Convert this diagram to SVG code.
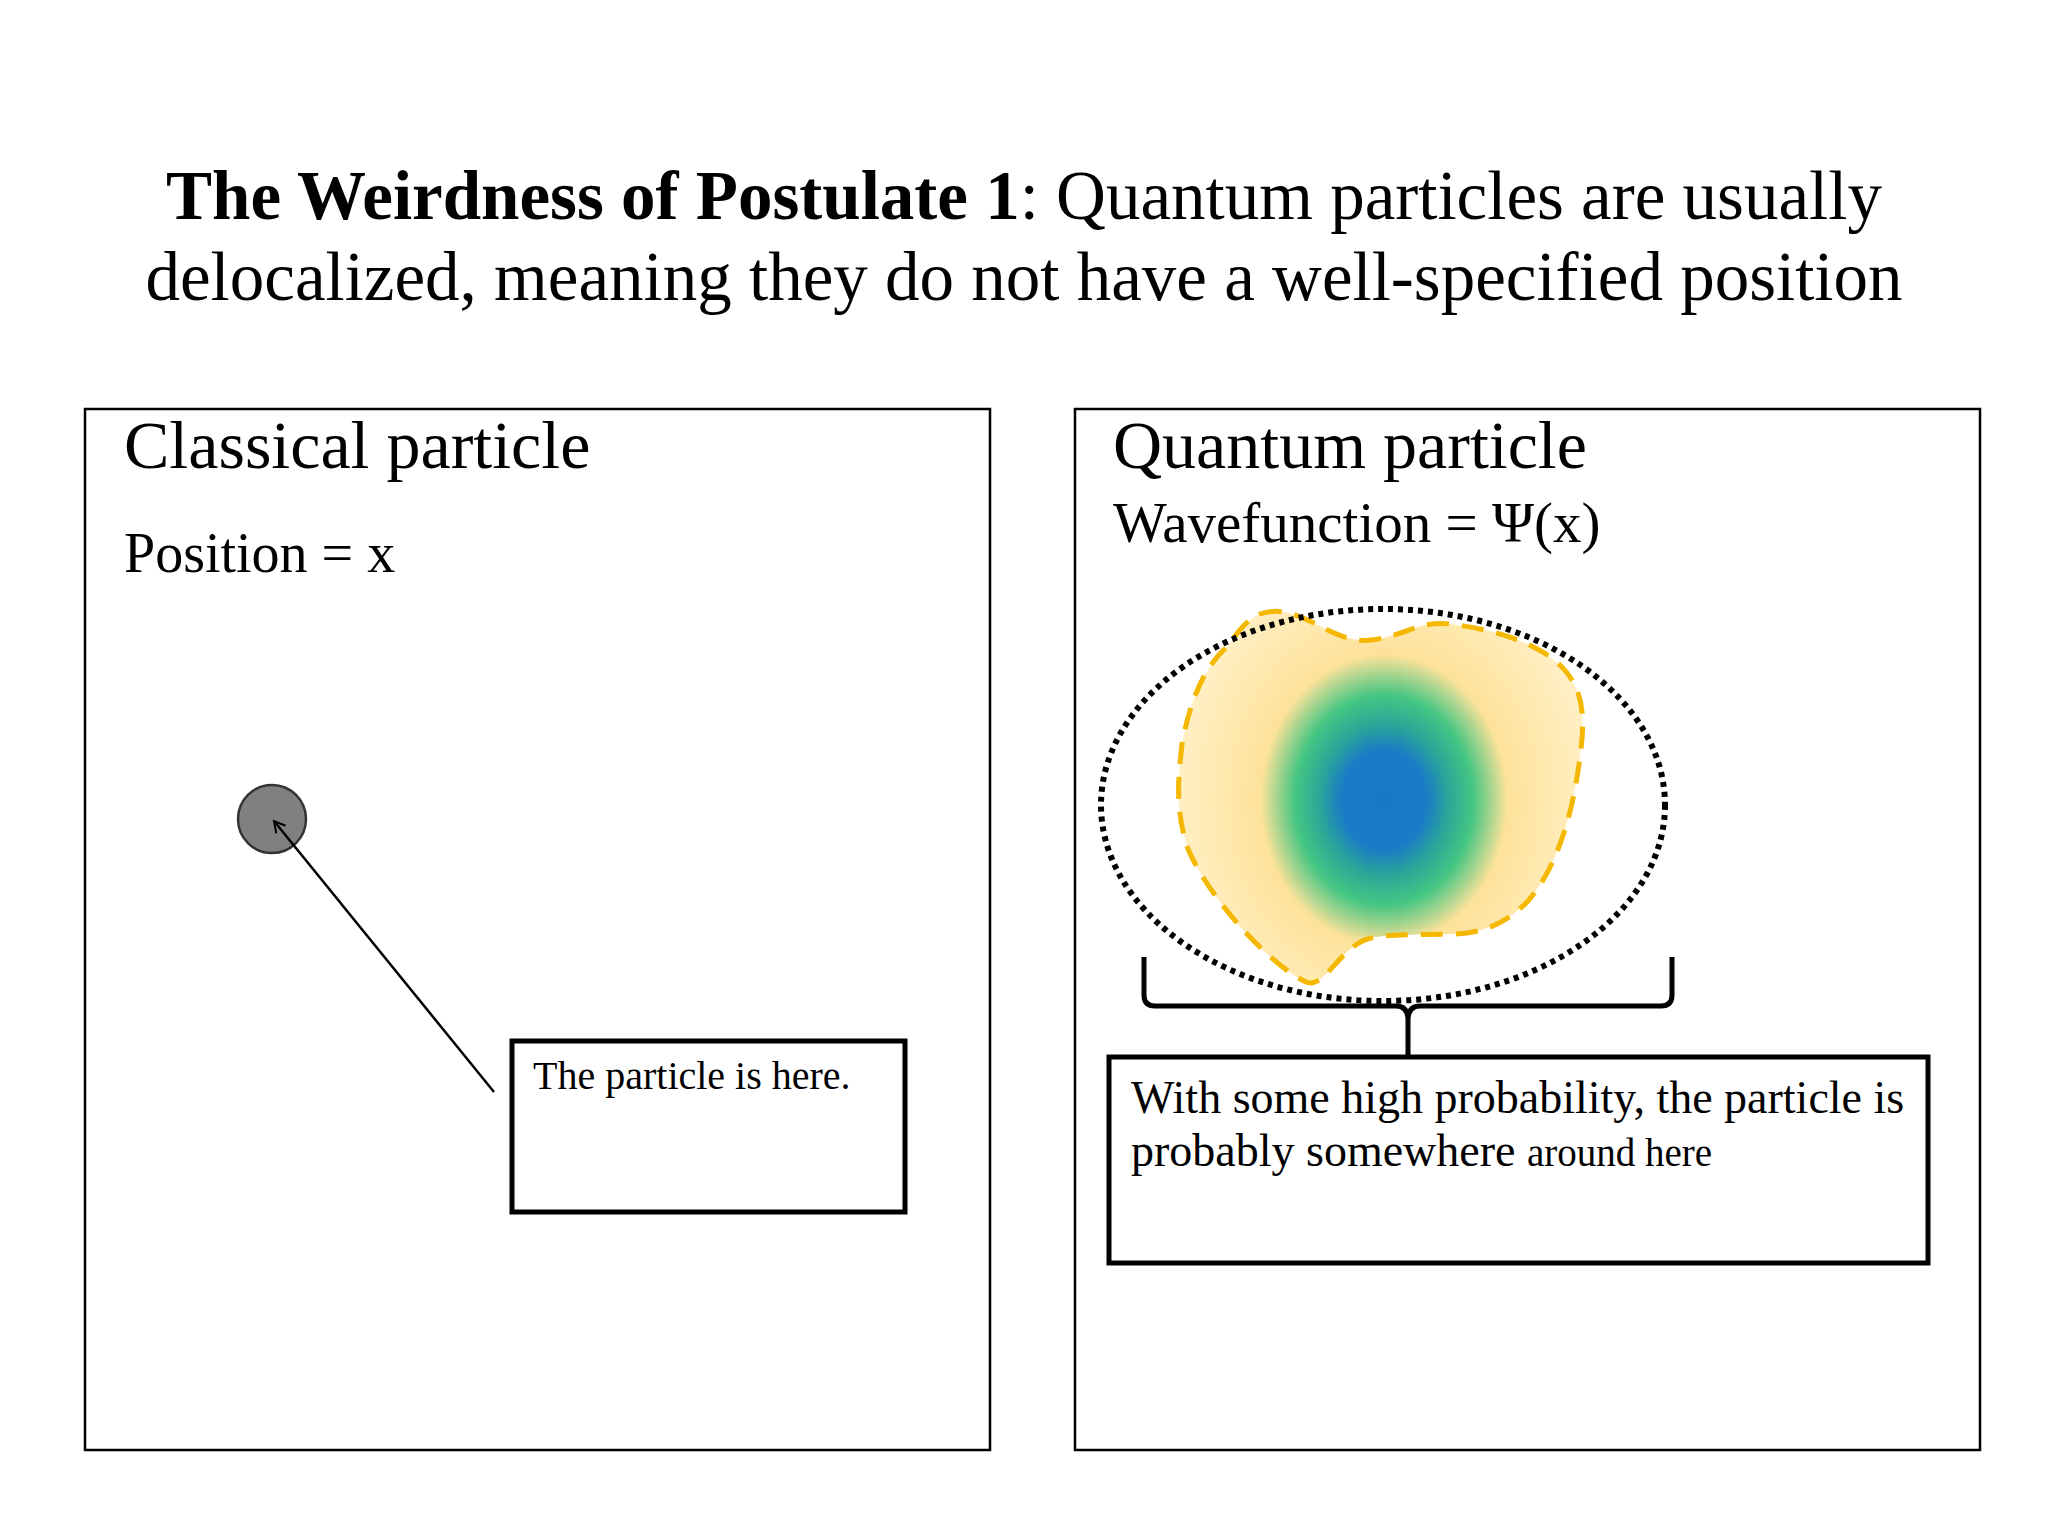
<svg xmlns="http://www.w3.org/2000/svg" width="2048" height="1536" viewBox="0 0 2048 1536">
<style>
text{font-family:"Liberation Serif","Times New Roman",serif;fill:#000}
.panel{fill:none;stroke:#000;stroke-width:2.5}
.box{fill:#fff;stroke:#000;stroke-width:5}
</style>
<defs>
<radialGradient id="g" cx="1384" cy="800" r="250" gradientUnits="userSpaceOnUse" gradientTransform="translate(1384 800) scale(0.85 1) translate(-1384 -800)">
<stop offset="0" stop-color="#1878c8"/><stop offset="0.2" stop-color="#1a7cc6"/><stop offset="0.3" stop-color="#2aa59a"/><stop offset="0.42" stop-color="#45c682"/><stop offset="0.58" stop-color="#fde29a"/><stop offset="1" stop-color="#fff0c6"/>
</radialGradient>
<marker id="ah" markerWidth="14" markerHeight="14" refX="12" refY="7" orient="auto" markerUnits="userSpaceOnUse"><path d="M1,1 L12,7 L1,13" fill="none" stroke="#000" stroke-width="2"/></marker>
</defs>
<rect width="2048" height="1536" fill="#fff"/>
<text x="1024" y="219" font-size="69" text-anchor="middle"><tspan font-weight="bold">The Weirdness of Postulate 1</tspan>:  Quantum particles are usually</text>
<text x="1024" y="300" font-size="69" text-anchor="middle">delocalized, meaning they do not have a well-specified position</text>
<g id="classical">
<rect class="panel" x="85" y="409" width="905" height="1041"/>
<text x="124" y="468" font-size="68">Classical particle</text>
<text x="124" y="572" font-size="56">Position = x</text>
</g>
<g id="particle"><circle cx="272" cy="819" r="34" fill="#808080" stroke="#333" stroke-width="2.5"/></g>
<g id="classical-label">
<rect class="box" x="512" y="1041" width="393" height="171"/>
<text x="533" y="1089" font-size="40">The particle is here.</text>
</g>
<g id="quantum">
<rect class="panel" x="1075" y="409" width="905" height="1041"/>
<text x="1113" y="468" font-size="68">Quantum particle</text>
<text x="1113" y="542" font-size="57">Wavefunction = Ψ(x)</text>
</g>
<g id="wavefunction">
<path d="M1260,614 C1300,600 1330,645 1371,640 C1405,636 1420,620 1450,624 C1500,630 1540,645 1561,666 C1585,690 1585,720 1580,757 C1572,820 1555,870 1528,901 C1505,925 1480,934 1450,934 C1410,935 1390,934 1371,938 C1340,945 1325,990 1306,982 C1270,965 1210,900 1188,849 C1175,810 1178,780 1182,744 C1190,700 1205,665 1228,646 C1240,628 1250,618 1260,614 Z" fill="url(#g)" stroke="#f5b800" stroke-width="5" stroke-dasharray="22 13"/>
<ellipse cx="1383" cy="805" rx="282" ry="196" fill="none" stroke="#000" stroke-width="6" stroke-dasharray="5 5"/>
</g>
<g id="quantum-label">
<rect class="box" x="1109" y="1057" width="819" height="206"/>
<text x="1131" y="1113" font-size="46">With some high probability, the particle is</text>
<text x="1131" y="1166" font-size="46">probably somewhere <tspan font-size="39">around here</tspan></text>
</g>
<g id="connectors" fill="none" stroke="#000">
<line x1="494" y1="1092" x2="274" y2="821" stroke-width="2.5" marker-end="url(#ah)"/>
<path d="M1144,957 L1144,995 Q1144,1006 1155,1006 L1396,1006 Q1408,1006 1408,1020 L1408,1057 M1408,1020 Q1408,1006 1420,1006 L1661,1006 Q1672,1006 1672,995 L1672,957" stroke-width="5"/>
</g>
</svg>
